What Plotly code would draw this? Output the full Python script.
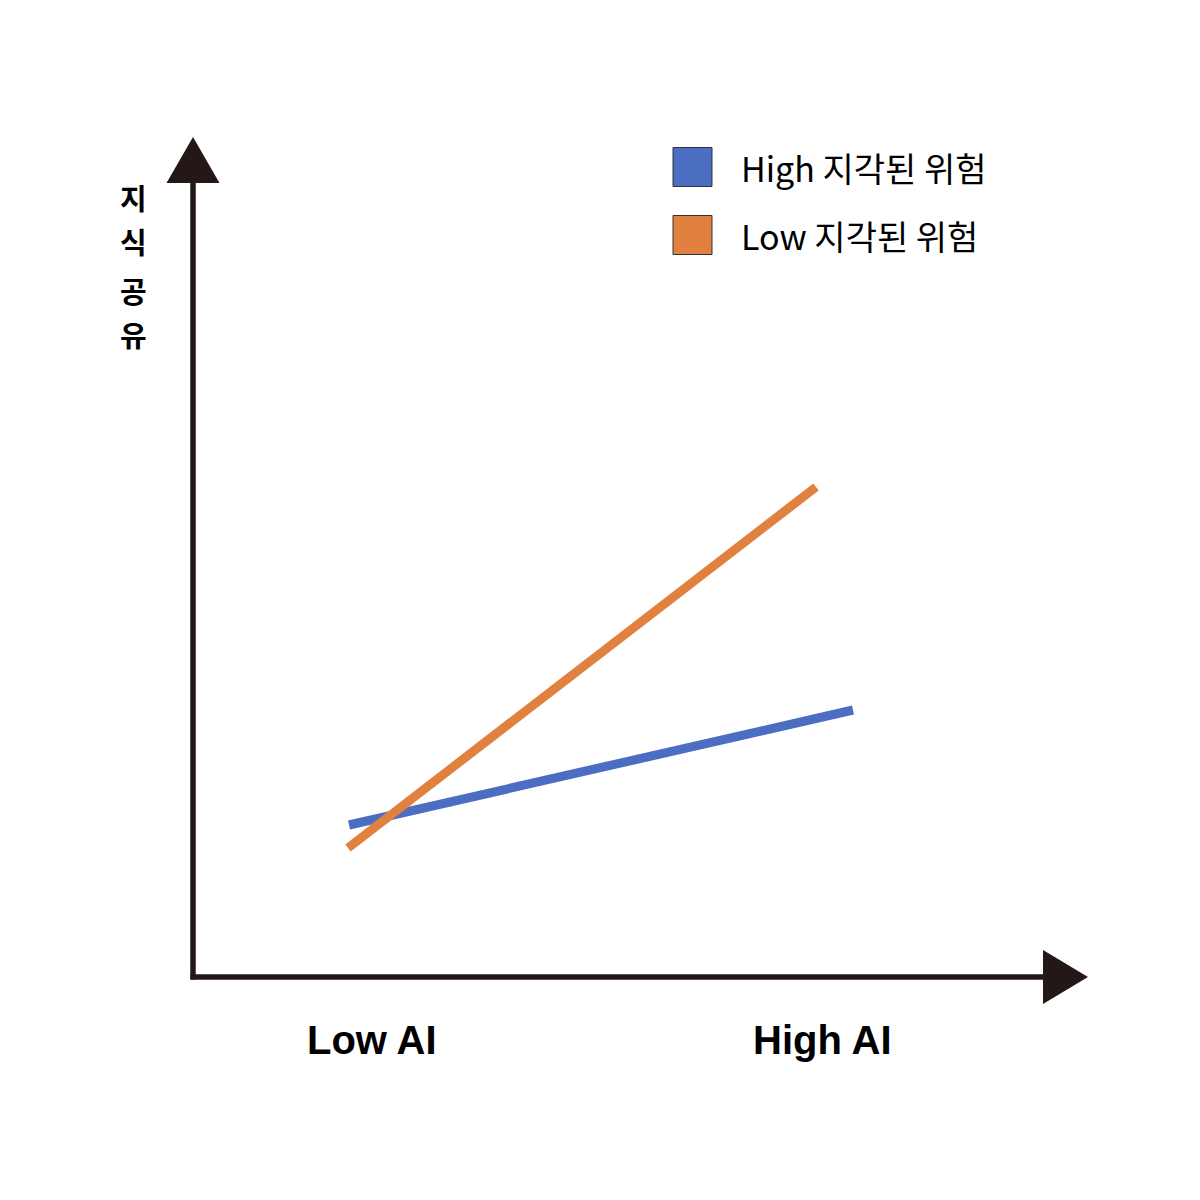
import plotly.graph_objects as go

# series (axis units: origin at 0, arbitrary scale)
series_names = ["High 지각된 위험", "Low 지각된 위험"]
series_colors = ["#4B6EC3", "#E0813F"]
high_risk_x = [1.56, 6.60]
high_risk_y = [1.52, 2.67]
low_risk_x = [1.55, 6.23]
low_risk_y = [1.29, 4.90]

x_labels = ["Low AI", "High AI"]
x_label_pos = [1.79, 6.29]
y_title_chars = ["지", "식", "공", "유"]

AXIS_COLOR = "#231815"

fig = go.Figure()
fig.add_trace(go.Scatter(x=high_risk_x, y=high_risk_y, mode="lines", name=series_names[0],
                         line=dict(color=series_colors[0], width=9)))
fig.add_trace(go.Scatter(x=low_risk_x, y=low_risk_y, mode="lines", name=series_names[1],
                         line=dict(color=series_colors[1], width=9)))

# axis lines with arrowheads
fig.add_shape(type="line", x0=0, y0=-0.025, x1=0, y1=7.98, line=dict(color=AXIS_COLOR, width=5.5))
fig.add_shape(type="line", x0=-0.025, y0=0, x1=8.52, y1=0, line=dict(color=AXIS_COLOR, width=5.5))
fig.add_shape(type="path", path="M -0.265,7.94 L 0.265,7.94 L 0,8.40 Z",
              fillcolor=AXIS_COLOR, line=dict(width=0))
fig.add_shape(type="path", path="M 8.50,0.27 L 8.50,-0.27 L 8.95,0 Z",
              fillcolor=AXIS_COLOR, line=dict(width=0))

# x category labels
for lab, xp in zip(x_labels, x_label_pos):
    fig.add_annotation(x=xp, y=-0.63, text="<b>%s</b>" % lab, showarrow=False,
                       font=dict(family="Liberation Sans Narrow, Liberation Sans, sans-serif",
                                 size=40, color="black"))

# stacked y title, one glyph per annotation
y_char_pos = [7.80, 7.36, 6.87, 6.43]
for ch, yp in zip(y_title_chars, y_char_pos):
    fig.add_annotation(x=-0.60, y=yp, text="<b>%s</b>" % ch, showarrow=False, borderpad=0,
                       font=dict(family="Noto Sans CJK KR", size=29, color="black"))

# legend drawn by hand
legend_y = [8.10, 7.42]
for name, col, ly in zip(series_names, series_colors, legend_y):
    fig.add_shape(type="rect", x0=4.80, x1=5.19, y0=ly - 0.195, y1=ly + 0.195,
                  fillcolor=col, line=dict(color="#333333", width=1))
    fig.add_annotation(x=5.46, y=ly, text=name, showarrow=False, xanchor="left",
                       font=dict(family="Noto Sans CJK KR", size=34, color="black"))

# page body has an 8px margin, so the figure is 1184 wide and the axes span it fully
fig.update_layout(
    width=1184, height=1184,
    margin=dict(l=0, r=0, t=0, b=0),
    paper_bgcolor="white", plot_bgcolor="white",
    showlegend=False,
    xaxis=dict(range=[-1.85, 9.99], visible=False, fixedrange=True),
    yaxis=dict(range=[-2.15, 9.69], visible=False, fixedrange=True),
)

fig.write_html("out.html")
